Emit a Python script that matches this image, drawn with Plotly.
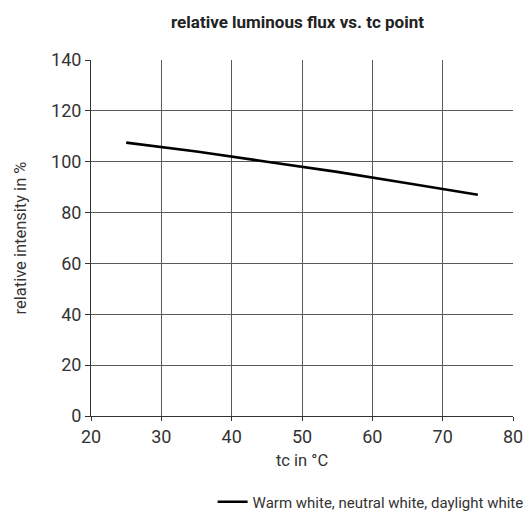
import plotly.graph_objects as go

tc_values = [25, 35, 45, 55, 65, 75]
relative_flux = [107.5, 104, 100, 96, 91.5, 87]
series_name = "Warm white, neutral white, daylight white"
x_ticks = [20, 30, 40, 50, 60, 70, 80]
y_ticks = [0, 20, 40, 60, 80, 100, 120, 140]

FONT = "Roboto, Liberation Sans, sans-serif"

L, R, T, B = 91, 16, 60, 102
W, H = 529, 518
plot_h = H - T - B

fig = go.Figure()
fig.add_trace(go.Scatter(
    x=tc_values, y=relative_flux, mode="lines", name=series_name,
    line=dict(color="black", width=2.6), showlegend=True,
))

fig.update_layout(
    width=W, height=H,
    margin=dict(l=L, r=R, t=T, b=B, autoexpand=False),
    paper_bgcolor="white", plot_bgcolor="white",
    font=dict(family=FONT, color="#333333", size=18),
    title=dict(text="<b>relative luminous flux vs. tc point</b>",
               x=297.5 / W, xanchor="center", xref="container",
               y=1 - 22 / H, yanchor="middle",
               font=dict(family=FONT, size=17, color="#222222")),
    showlegend=True,
    legend=dict(orientation="h", x=1.037, xanchor="right",
                y=(416 - 502) / plot_h, yanchor="middle",
                font=dict(family=FONT, size=15, color="#333333"),
                bgcolor="rgba(0,0,0,0)"),
)
fig.update_xaxes(
    range=[20, 80], tickvals=x_ticks, ticktext=[str(v) for v in x_ticks],
    showgrid=True, gridcolor="#5a5a5a", gridwidth=1,
    showline=True, linecolor="#333333", linewidth=1, mirror=False,
    ticks="outside", ticklen=4, tickcolor="#333333",
    zeroline=False, automargin=False,
    title=dict(text="tc in °C", font=dict(family=FONT, size=16.5), standoff=8),
)
fig.update_yaxes(
    range=[0, 140], tickvals=y_ticks, ticktext=[str(v) for v in y_ticks],
    showgrid=True, gridcolor="#5a5a5a", gridwidth=1,
    showline=True, linecolor="#333333", linewidth=1,
    ticks="outside", ticklen=5, tickcolor="#333333",
    zeroline=False, automargin=False,
    title=dict(text="relative intensity in %", font=dict(family=FONT, size=16.5), standoff=20),
)
fig.write_html("out.html", config={"displayModeBar": False},
               post_script="document.body.style.margin='0';")
